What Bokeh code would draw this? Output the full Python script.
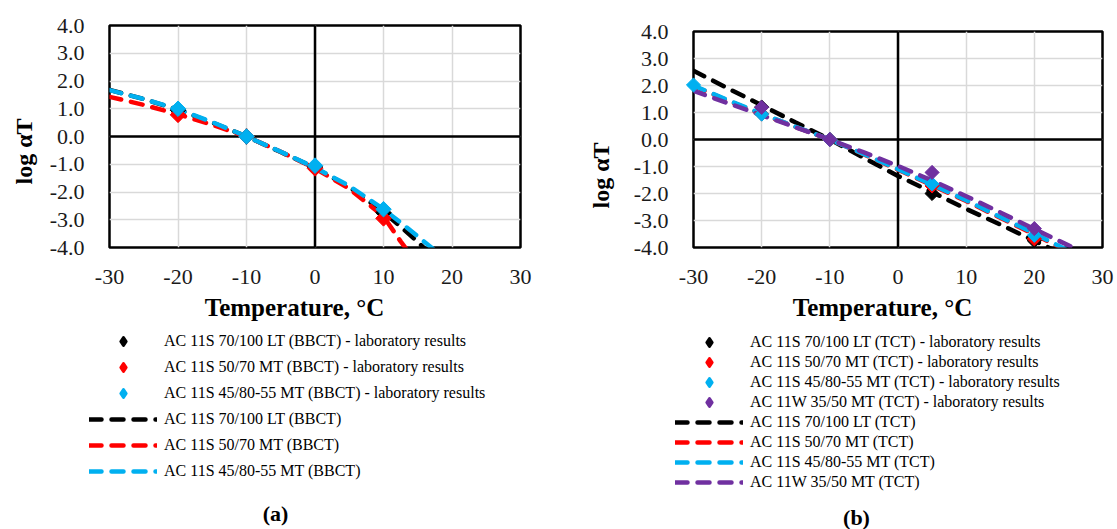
import math
from bokeh.plotting import figure
from bokeh.layouts import row, column
from bokeh.models import (Legend, LegendItem, Span, Label, FixedTicker,
                          PrintfTickFormatter, Range1d)
from bokeh.embed import file_html
from bokeh.resources import INLINE

FONT = "Liberation Serif"

# ---------------- data ----------------
x_ticks = [-30, -20, -10, 0, 10, 20, 30]
y_ticks = [-4, -3, -2, -1, 0, 1, 2, 3, 4]

# (a) BBCT - laboratory results
bbct_lab_temp = [-20, -10, 0, 10]
bbct_lab_lt_70_100 = [0.95, 0.0, -1.10, -2.75]
bbct_lab_mt_50_70 = [0.78, 0.0, -1.15, -2.95]
bbct_lab_mt_45_80 = [1.00, 0.0, -1.05, -2.62]

# (a) BBCT - master curves
bbct_curve_temp = [-30, -25, -20, -15, -10, -5, 0, 5, 10, 12.5, 15, 17.5, 20]
bbct_curve_lt_70_100 = [1.68, 1.35, 0.97, 0.50, 0.0, -0.56, -1.13, -1.82, -2.72, -3.25, -3.80, -4.40, -5.00]
bbct_curve_mt_50_70 = [1.43, 1.14, 0.80, 0.42, 0.0, -0.55, -1.15, -1.88, -2.88, -3.78, -4.60, -5.40, -6.20]
bbct_curve_mt_45_80 = [1.67, 1.35, 0.98, 0.52, 0.0, -0.55, -1.12, -1.78, -2.62, -3.10, -3.60, -4.10, -4.60]

bbct_names = ["AC 11S 70/100 LT (BBCT)", "AC 11S 50/70 MT (BBCT)", "AC 11S 45/80-55 MT (BBCT)"]

# (b) TCT - laboratory results
tct_lab_temp_lt_70_100 = [-20, -10, 5, 20]
tct_lab_lt_70_100 = [1.20, 0.0, -2.00, -3.75]
tct_lab_temp_mt_50_70 = [-20, -10, 5, 20]
tct_lab_mt_50_70 = [0.95, 0.0, -1.72, -3.68]
tct_lab_temp_mt_45_80 = [-30, -20, -10, 5, 20]
tct_lab_mt_45_80 = [2.02, 0.94, 0.0, -1.65, -3.55]
tct_lab_temp_w_35_50 = [-20, -10, 5, 20]
tct_lab_w_35_50 = [1.19, 0.0, -1.22, -3.30]

# (b) TCT - master curves
tct_curve_temp = [-30, -25, -20, -15, -10, -5, 0, 5, 10, 15, 20, 25, 30]
tct_curve_lt_70_100 = [2.55, 1.90, 1.27, 0.63, 0.0, -0.68, -1.35, -1.95, -2.57, -3.15, -3.75, -4.35, -4.95]
tct_curve_mt_50_70 = [1.98, 1.44, 0.94, 0.46, 0.0, -0.55, -1.12, -1.70, -2.28, -2.90, -3.52, -4.15, -4.80]
tct_curve_mt_45_80 = [2.00, 1.46, 0.96, 0.47, 0.0, -0.54, -1.10, -1.67, -2.25, -2.87, -3.48, -4.12, -4.75]
tct_curve_w_35_50 = [1.80, 1.35, 0.90, 0.45, 0.0, -0.48, -0.98, -1.52, -2.10, -2.70, -3.32, -3.92, -4.55]

tct_names = ["AC 11S 70/100 LT (TCT)", "AC 11S 50/70 MT (TCT)",
             "AC 11S 45/80-55 MT (TCT)", "AC 11W 35/50 MT (TCT)"]

x_title = "Temperature, °C"
y_title = "log αT"
LAB = " - laboratory results"

C_BLACK, C_RED, C_BLUE, C_PURPLE = "#000000", "#ff0000", "#00b0f0", "#7030a0"
DASH = "12 10"
LW = 4.5
CHART_H = 295
LEG_H = 234


def chart_fig(width, ml, mr, mt, mb):
    p = figure(width=width, height=CHART_H, x_range=Range1d(-30, 30), y_range=Range1d(-4, 4),
               output_backend="svg", toolbar_location=None,
               min_border_left=ml, min_border_right=mr, min_border_top=mt, min_border_bottom=mb)
    p.xaxis.ticker = FixedTicker(ticks=x_ticks)
    p.yaxis.ticker = FixedTicker(ticks=y_ticks)
    p.xaxis.formatter = PrintfTickFormatter(format="%d")
    p.yaxis.formatter = PrintfTickFormatter(format="%.1f")
    for ax in (p.xaxis[0], p.yaxis[0]):
        ax.major_label_text_font = FONT
        ax.major_label_text_font_size = "22px"
        ax.major_label_text_color = "#1a1a1a"
        ax.axis_line_color = None
        ax.major_tick_line_color = None
        ax.minor_tick_line_color = None
        ax.major_tick_out = 0
        ax.major_tick_in = 0
    p.xaxis.major_label_standoff = 22
    p.yaxis.major_label_standoff = 25
    p.grid.grid_line_color = "#d9d9d9"
    p.grid.grid_line_width = 1.5
    p.outline_line_color = "black"
    p.outline_line_width = 2.5
    p.background_fill_color = "white"
    p.border_fill_color = "white"
    p.add_layout(Span(location=0, dimension="height", line_color="black", line_width=2.5, level="underlay"))
    p.add_layout(Span(location=0, dimension="width", line_color="black", line_width=2.5, level="underlay"))
    return p


def blank_fig(width, height):
    f = figure(width=width, height=height, x_range=Range1d(0, width), y_range=Range1d(0, height),
               output_backend="svg", toolbar_location=None, min_border=0,
               x_axis_location=None, y_axis_location=None)
    f.outline_line_color = None
    f.grid.visible = False
    f.background_fill_color = "white"
    f.border_fill_color = "white"
    return f


def add_text(f, text, x, y, size, bold, angle=0.0):
    f.add_layout(Label(x=x, y=y, x_units="screen", y_units="screen", text=text,
                       text_font=FONT, text_font_size=size,
                       text_font_style="bold" if bold else "normal",
                       text_align="center", text_baseline="middle", angle=angle,
                       text_color="black"))


def lab_points(p, xs, ys, color, size):
    return p.scatter(xs, ys, marker="square", size=size, angle=math.pi / 4,
                     fill_color=color, line_color=color, level="overlay")


def curve(p, xs, ys, color, visible=True):
    return p.line(xs, ys, line_color=color, line_width=LW, line_dash=DASH, line_cap="round",
                  visible=visible)


def make_legend(f, names, lab_series, curve_series, colors, loc, spacing):
    """Legend keys: hidden copies of the series, so only their legend glyphs show."""
    items = []
    for name, (xs, ys), c in zip(names, lab_series, colors):
        r = f.scatter(xs, ys, marker="diamond", size=8, fill_color=c, line_color=c,
                      line_width=3, line_join="round", visible=False)
        items.append(LegendItem(label=name + LAB, renderers=[r]))
    for name, (xs, ys), c in zip(names, curve_series, colors):
        r = curve(f, xs, ys, c, visible=False)
        items.append(LegendItem(label=name, renderers=[r]))
    f.add_layout(Legend(items=items, location=loc, glyph_width=68, glyph_height=20,
                        label_height=20, spacing=spacing, label_standoff=7, padding=0, margin=0,
                        border_line_color=None, background_fill_alpha=0,
                        inactive_fill_alpha=0,
                        label_text_font=FONT, label_text_font_size="16px",
                        label_text_color="black"))


# ---------------- (a) ----------------
pa = chart_fig(515, 64, 40, 25, 48)
lab_points(pa, bbct_lab_temp, bbct_lab_lt_70_100, C_BLACK, 11)
lab_points(pa, bbct_lab_temp, bbct_lab_mt_50_70, C_RED, 11)
lab_points(pa, bbct_lab_temp, bbct_lab_mt_45_80, C_BLUE, 11)
curve(pa, bbct_curve_temp, bbct_curve_lt_70_100, C_BLACK)
curve(pa, bbct_curve_temp, bbct_curve_mt_50_70, C_RED)
curve(pa, bbct_curve_temp, bbct_curve_mt_45_80, C_BLUE)

ya = blank_fig(45, CHART_H)
add_text(ya, y_title, 23, 96, "24px", True, math.pi / 2)

la = blank_fig(560, LEG_H)
make_legend(la, bbct_names,
            [(bbct_lab_temp, bbct_lab_lt_70_100), (bbct_lab_temp, bbct_lab_mt_50_70),
             (bbct_lab_temp, bbct_lab_mt_45_80)],
            [(bbct_curve_temp, bbct_curve_lt_70_100), (bbct_curve_temp, bbct_curve_mt_50_70),
             (bbct_curve_temp, bbct_curve_mt_45_80)],
            [C_BLACK, C_RED, C_BLUE], (89, 48), 6)
add_text(la, x_title, 294, 222, "25px", True)
add_text(la, "(a)", 275, 16, "22px", True)

# ---------------- (b) ----------------
pb = chart_fig(497, 73, 15, 31, 48)
lab_points(pb, tct_lab_temp_lt_70_100, tct_lab_lt_70_100, C_BLACK, 10)
lab_points(pb, tct_lab_temp_mt_50_70, tct_lab_mt_50_70, C_RED, 10)
lab_points(pb, tct_lab_temp_mt_45_80, tct_lab_mt_45_80, C_BLUE, 10)
lab_points(pb, tct_lab_temp_w_35_50, tct_lab_w_35_50, C_PURPLE, 10)
curve(pb, tct_curve_temp, tct_curve_lt_70_100, C_BLACK)
curve(pb, tct_curve_temp, tct_curve_mt_50_70, C_RED)
curve(pb, tct_curve_temp, tct_curve_mt_45_80, C_BLUE)
curve(pb, tct_curve_temp, tct_curve_w_35_50, C_PURPLE)

yb = blank_fig(60, CHART_H)
add_text(yb, y_title, 40, 72, "24px", True, math.pi / 2)

lb = blank_fig(557, LEG_H)
make_legend(lb, tct_names,
            [(tct_lab_temp_lt_70_100, tct_lab_lt_70_100), (tct_lab_temp_mt_50_70, tct_lab_mt_50_70),
             (tct_lab_temp_mt_45_80, tct_lab_mt_45_80), (tct_lab_temp_w_35_50, tct_lab_w_35_50)],
            [(tct_curve_temp, tct_curve_lt_70_100), (tct_curve_temp, tct_curve_mt_50_70),
             (tct_curve_temp, tct_curve_mt_45_80), (tct_curve_temp, tct_curve_w_35_50)],
            [C_BLACK, C_RED, C_BLUE, C_PURPLE], (115, 37), 0)
add_text(lb, x_title, 322, 222, "25px", True)
add_text(lb, "(b)", 296, 12, "22px", True)

layout = row(column(row(ya, pa), la), column(row(yb, pb), lb))
open("out.html", "w").write(file_html(layout, INLINE))
